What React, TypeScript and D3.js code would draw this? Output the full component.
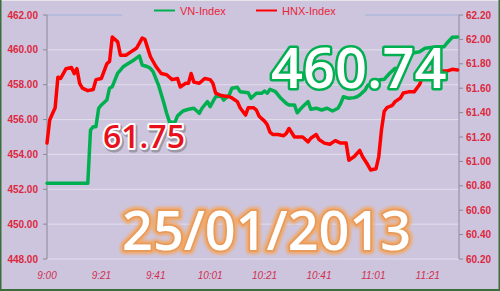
import React from "react";
import * as d3 from "d3";

const timeLabels = ["9:00", "9:21", "9:41", "10:01", "10:21", "10:41", "11:01", "11:21"];
const labelSteps = [0, 20, 40, 60, 80, 100, 120, 140];

const leftTicks = [448, 450, 452, 454, 456, 458, 460, 462];
const rightTicks = [60.2, 60.4, 60.6, 60.8, 61.0, 61.2, 61.4, 61.6, 61.8, 62.0, 62.2];

const vnSteps = [0, 15, 16, 17, 18, 19, 20, 22, 23, 24, 26, 27, 28, 30, 32, 34, 35, 37, 38, 39, 41, 43, 44, 45, 47, 48, 50, 52, 54, 56, 57, 59, 60, 62, 64, 65, 67, 68, 70, 71, 74, 75, 77, 79, 80, 81, 82, 84, 86, 88, 89, 91, 92, 94, 96, 97, 99, 101, 103, 105, 107, 108, 109, 111, 113, 114, 115, 117, 118, 120, 122, 124, 126, 128, 129, 131, 133, 134, 137, 139, 142, 144, 146, 147, 149, 151];
const vnValues = [452.34, 452.34, 455.4, 455.59, 455.59, 456.65, 456.84, 457.12, 457.8, 457.89, 458.66, 458.84, 459.03, 459.23, 459.42, 459.65, 459.13, 459.03, 458.94, 458.75, 457.98, 456.93, 456.36, 455.88, 455.82, 456.21, 456.49, 456.59, 456.65, 456.36, 456.65, 457.03, 456.74, 457.31, 457.35, 457.12, 457.41, 457.8, 457.85, 457.6, 457.54, 457.22, 457.51, 457.51, 457.64, 457.51, 457.74, 457.6, 457.22, 456.93, 456.84, 456.84, 456.39, 456.74, 457.03, 456.59, 456.65, 456.55, 456.65, 456.49, 456.65, 456.93, 457.31, 457.22, 457.26, 457.31, 457.41, 457.7, 457.98, 458.08, 458.27, 458.31, 458.66, 458.94, 458.84, 459.42, 459.71, 459.8, 459.89, 460.09, 460.15, 460.18, 460.18, 460.38, 460.72, 460.74];

const hnxSteps = [0, 1, 2, 3, 4, 5, 6, 7, 9, 10, 11, 12, 13, 15, 17, 18, 20, 21, 22, 23, 24, 26, 27, 29, 31, 33, 35, 36, 38, 40, 42, 44, 46, 48, 49, 51, 52, 53, 54, 56, 58, 60, 61, 62, 64, 67, 68, 70, 71, 73, 74, 76, 77, 78, 80, 81, 82, 83, 85, 87, 88, 89, 91, 93, 94, 96, 97, 99, 100, 102, 104, 106, 108, 110, 111, 113, 115, 116, 118, 119, 121, 122, 123, 124, 125, 126, 127, 128, 130, 131, 133, 135, 137, 138, 140, 142, 144, 147, 149, 151];
const hnxValues = [61.15, 61.34, 61.39, 61.44, 61.69, 61.68, 61.72, 61.76, 61.77, 61.72, 61.76, 61.64, 61.6, 61.58, 61.59, 61.67, 61.68, 61.74, 61.8, 61.82, 62.02, 61.98, 61.87, 61.87, 61.9, 61.93, 62.01, 62.0, 61.86, 61.78, 61.72, 61.71, 61.67, 61.68, 61.61, 61.64, 61.64, 61.72, 61.65, 61.64, 61.68, 61.67, 61.64, 61.56, 61.54, 61.53, 61.52, 61.49, 61.44, 61.38, 61.44, 61.44, 61.42, 61.37, 61.33, 61.3, 61.24, 61.22, 61.22, 61.21, 61.23, 61.27, 61.2, 61.2, 61.2, 61.16, 61.19, 61.22, 61.18, 61.15, 61.14, 61.17, 61.15, 61.15, 61.01, 61.04, 61.09, 61.04, 60.97, 60.93, 60.94, 61.04, 61.26, 61.41, 61.44, 61.45, 61.46, 61.49, 61.52, 61.56, 61.57, 61.57, 61.63, 61.69, 61.72, 61.74, 61.74, 61.74, 61.755, 61.75];

const seriesNames = ["VN-Index", "HNX-Index"];
const vnLast = "460.74";
const hnxLast = "61.75";
const dateLabel = "25/01/2013";

const W = 500;
const H = 291;
const BG = "#cdc5de";
const GREEN = "#00b050";
const RED = "#ff0000";
const LABEL_RED = "#dc2840";

export default function App() {
  const x = d3.scaleLinear().domain([0, 151.5]).range([47, 459]);
  const yL = d3.scaleLinear().domain([448, 462]).range([259, 15]);
  const yR = d3.scaleLinear().domain([60.2, 62.2]).range([259, 15]);

  const vnData = vnSteps.map((s, i) => [s, vnValues[i]] as [number, number]);
  const hnxData = hnxSteps.map((s, i) => [s, hnxValues[i]] as [number, number]);

  const vnLine = d3.line<[number, number]>().x(d => x(d[0])).y(d => yL(d[1]));
  const hnxLine = d3.line<[number, number]>().x(d => x(d[0])).y(d => yR(d[1]));

  const x0 = x(0);
  const x1 = 459;

  return (
    <svg width={W} height={H} style={{ position: "absolute", left: 0, top: 0 }} xmlns="http://www.w3.org/2000/svg">
      <defs>
        <filter id="glowO" x="-10%" y="-20%" width="120%" height="140%">
          <feGaussianBlur stdDeviation="1.5" />
        </filter>
      </defs>
      <rect x={0} y={0} width={W} height={H} fill={BG} />
      {/* grid */}
      {leftTicks.map(t => (
        <line key={"g" + t} x1={x0} x2={x1} y1={yL(t)} y2={yL(t)} stroke={t === 462 ? "#9fb2d9" : "#e2deec"} strokeWidth={1} />
      ))}
      {/* legend box */}
      <rect x={122} y={3} width={243} height={15} fill={BG} />
      <line x1={154} x2={175} y1={10.5} y2={10.5} stroke={GREEN} strokeWidth={2} />
      <text x={180} y={14.5} fontFamily="Liberation Sans, Arial, sans-serif" fontSize={11} fill="#e8253c">{seriesNames[0]}</text>
      <line x1={256} x2={277} y1={10.5} y2={10.5} stroke={RED} strokeWidth={2} />
      <text x={282} y={14.5} fontFamily="Liberation Sans, Arial, sans-serif" fontSize={11} fill="#e8253c">{seriesNames[1]}</text>

      {/* axes */}
      <line x1={x0} x2={x0} y1={15} y2={259} stroke="#8a8a96" strokeWidth={1} />
      <line x1={x1} x2={x1} y1={15} y2={259} stroke="#8a8a96" strokeWidth={1} />
      {leftTicks.map(t => (
        <g key={"l" + t}>
          <line x1={x0 - 4} x2={x0} y1={yL(t)} y2={yL(t)} stroke="#8a8a96" />
          <text x={38} y={yL(t)} dy="0.35em" textAnchor="end" fontFamily="Liberation Sans, Arial, sans-serif" fontSize={10} fontWeight="bold" fill={LABEL_RED}>{t.toFixed(2)}</text>
        </g>
      ))}
      {rightTicks.map(t => (
        <g key={"r" + t}>
          <line x1={x1} x2={x1 + 4} y1={yR(t)} y2={yR(t)} stroke="#8a8a96" />
          <text x={466} y={yR(t)} dy="0.35em" textAnchor="start" fontFamily="Liberation Sans, Arial, sans-serif" fontSize={10} fontWeight="bold" fill={LABEL_RED}>{t.toFixed(2)}</text>
        </g>
      ))}
      {labelSteps.map((s, i) => (
        <text key={"x" + s} x={x(s)} y={279} textAnchor="middle" fontFamily="Liberation Sans, Arial, sans-serif" fontSize={10} fontStyle="italic" fill="#d03050">{timeLabels[i]}</text>
      ))}

      {/* series */}
      <path d={vnLine(vnData) || ""} fill="none" stroke={GREEN} strokeWidth={3.5} strokeLinejoin="round" strokeLinecap="round" />
      <path d={hnxLine(hnxData) || ""} fill="none" stroke={RED} strokeWidth={3.5} strokeLinejoin="round" strokeLinecap="round" />

      {/* annotations */}
      <text x={271} y={88} fontFamily="Open Sans, sans-serif" fontSize={56} fontWeight={600} fill="#ffffff" stroke={GREEN} strokeWidth={5} paintOrder="stroke" strokeLinejoin="round">{vnLast}</text>
      <text x={103} y={148} fontFamily="Open Sans, sans-serif" fontSize={32} fontWeight={600} fill="#666" opacity={0.45} stroke="#666" strokeWidth={5} strokeLinejoin="round" transform="translate(1.5,1.5)">{hnxLast}</text>
      <text x={103} y={148} fontFamily="Open Sans, sans-serif" fontSize={32} fontWeight={600} fill="#e8101a" stroke="#ffffff" strokeWidth={4} paintOrder="stroke" strokeLinejoin="round">{hnxLast}</text>
      <text x={122} y={250} fontFamily="Open Sans, sans-serif" fontSize={54} fontWeight={600} fill="none" stroke="#f0a868" strokeWidth={8} strokeLinejoin="round" filter="url(#glowO)">{dateLabel}</text>
      <text x={122} y={250} fontFamily="Open Sans, sans-serif" fontSize={54} fontWeight={600} fill="#ffffff" stroke="#e89a5a" strokeWidth={3.5} paintOrder="stroke" strokeLinejoin="round">{dateLabel}</text>

      {/* frame */}
      <line x1={0} x2={W} y1={0.5} y2={0.5} stroke="#e6e6ea" strokeWidth={1} />
      <line x1={0.75} x2={0.75} y1={0} y2={H} stroke="#3c6e3c" strokeWidth={1.5} />
      <line x1={W - 0.75} x2={W - 0.75} y1={0} y2={H} stroke="#3c6e3c" strokeWidth={1.5} />
      <line x1={0} x2={W} y1={H - 1} y2={H - 1} stroke="#3c6e3c" strokeWidth={2} />
    </svg>
  );
}
